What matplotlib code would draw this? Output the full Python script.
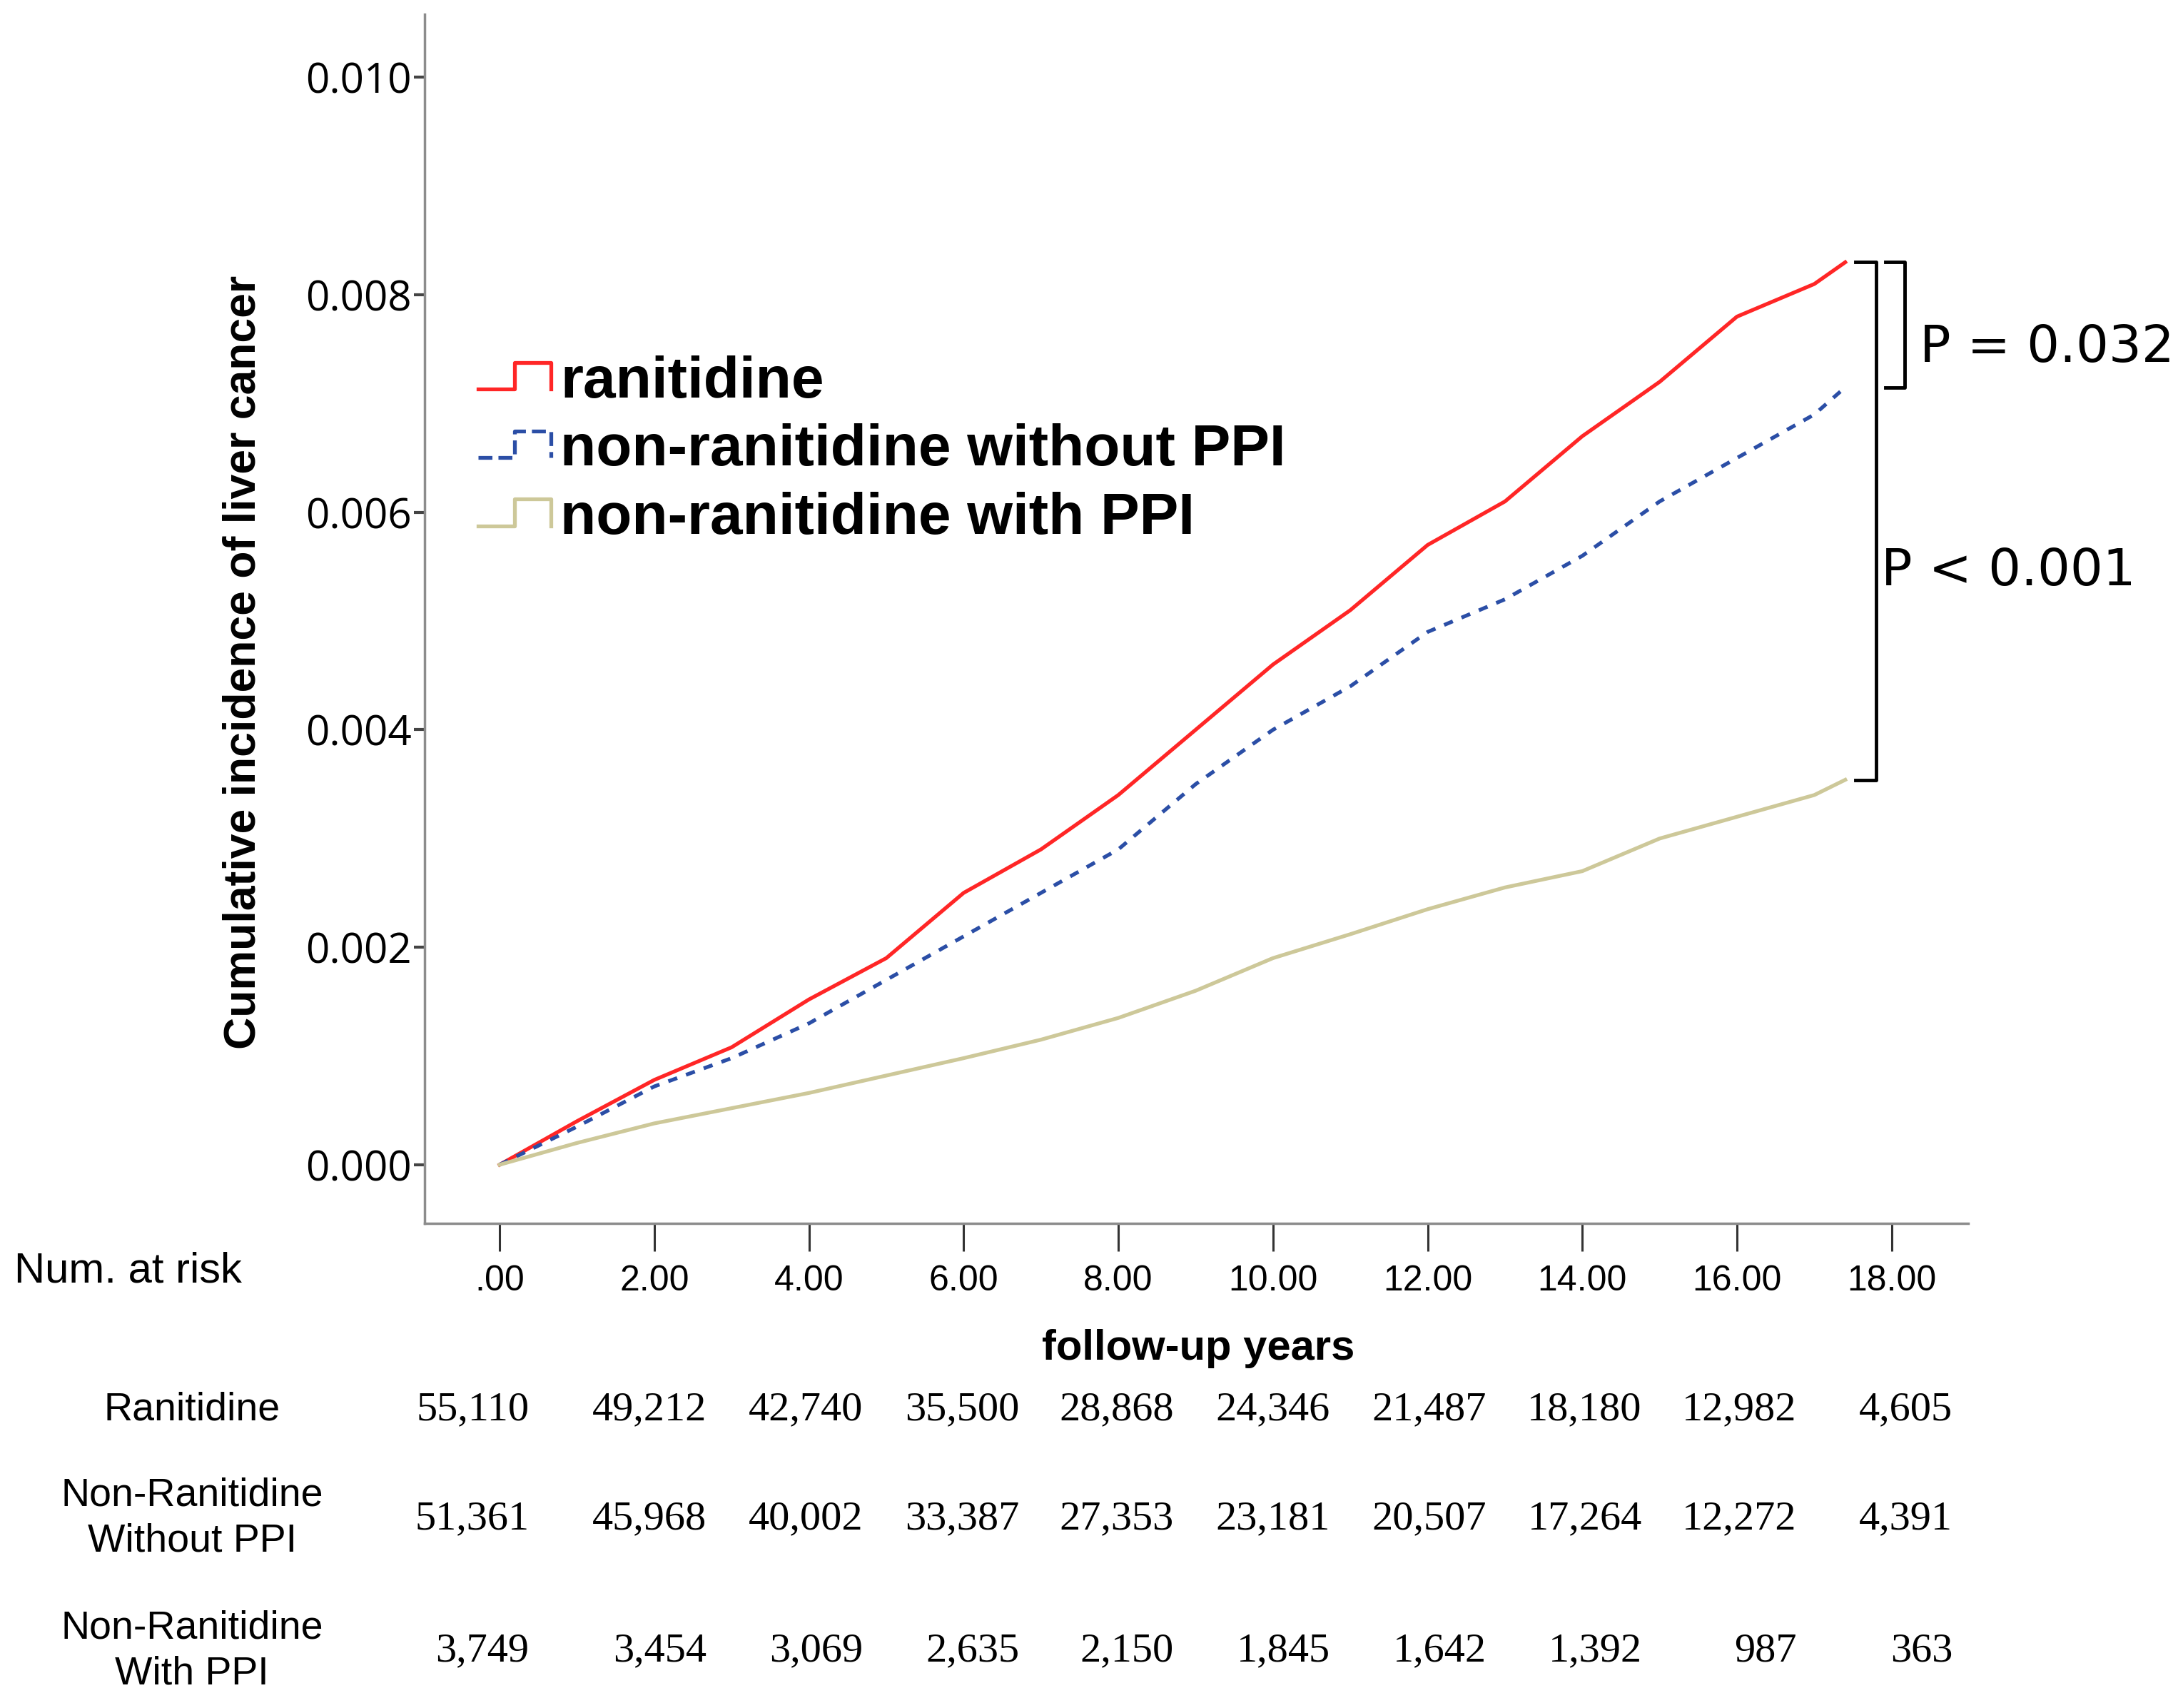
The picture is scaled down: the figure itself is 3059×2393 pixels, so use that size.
import numpy as np
import matplotlib.pyplot as plt
from matplotlib.lines import Line2D
from matplotlib.legend_handler import HandlerLine2D
import matplotlib.transforms as mtransforms

# follow-up years and cumulative incidence
years = [0, 1, 2, 3, 4, 5, 6, 7, 8, 9, 10, 11, 12, 13, 14, 15, 16, 17, 17.4]
ranitidine = [0, 0.0004, 0.00078, 0.00108, 0.00152, 0.0019, 0.0025, 0.0029, 0.0034,
              0.0040, 0.0046, 0.0051, 0.0057, 0.0061, 0.0067, 0.0072, 0.0078, 0.0081, 0.0083]
non_ran_no_ppi = [0, 0.00035, 0.00072, 0.00098, 0.0013, 0.0017, 0.0021, 0.0025, 0.0029,
                  0.0035, 0.0040, 0.0044, 0.0049, 0.0052, 0.0056, 0.0061, 0.0065, 0.0069, 0.00715]
non_ran_ppi = [0, 0.0002, 0.00038, 0.00052, 0.00066, 0.00082, 0.00098, 0.00115, 0.00135,
               0.0016, 0.0019, 0.00212, 0.00235, 0.00255, 0.0027, 0.0030, 0.0032, 0.0034, 0.00354]

series_labels = ["ranitidine", "non-ranitidine without PPI", "non-ranitidine with PPI"]

xticks = [0, 2, 4, 6, 8, 10, 12, 14, 16, 18]
xtick_labels = [".00", "2.00", "4.00", "6.00", "8.00", "10.00", "12.00", "14.00", "16.00", "18.00"]
yticks = [0.0, 0.002, 0.004, 0.006, 0.008, 0.010]

risk_rows = ["Ranitidine", "Non-Ranitidine\nWithout PPI", "Non-Ranitidine\nWith PPI"]
risk_ranitidine = ["55,110", "49,212", "42,740", "35,500", "28,868", "24,346", "21,487", "18,180", "12,982", "4,605"]
risk_no_ppi = ["51,361", "45,968", "40,002", "33,387", "27,353", "23,181", "20,507", "17,264", "12,272", "4,391"]
risk_ppi = ["3,749", "3,454", "3,069", "2,635", "2,150", "1,845", "1,642", "1,392", "987", "363"]

RED = "#ff2626"
BLUE = "#2b4ea6"
TAN = "#cdc899"
SANS = ["Liberation Sans", "DejaVu Sans"]


class StepHandler(HandlerLine2D):
    # legend key drawn as a little step, like the SPSS output
    def create_artists(self, legend, orig_handle, xdescent, ydescent, width, height, fontsize, trans):
        x0, x1 = -xdescent, -xdescent + width
        xm = (x0 + x1) / 2
        ylo, yhi = -ydescent + 0.2 * height, -ydescent + 0.85 * height
        line = Line2D([x0, xm, xm, x1, x1], [ylo, ylo, yhi, yhi, ylo],
                      transform=trans, color=orig_handle.get_color(),
                      linestyle=orig_handle.get_linestyle(), linewidth=orig_handle.get_linewidth())
        return [line]


fig = plt.figure(figsize=(30.59, 23.93), dpi=100)
ax = fig.add_axes([0.1945, 0.2837, 0.7071, 0.7079])

l1, = ax.plot(years, ranitidine, color=RED, lw=3.8, label=series_labels[0])
l2, = ax.plot(years, non_ran_no_ppi, color=BLUE, lw=3.8, dashes=(2.5, 2.5), label=series_labels[1])
l3, = ax.plot(years, non_ran_ppi, color=TAN, lw=3.8, label=series_labels[2])

ax.set_xlim(-0.97, 18.99)
ax.set_ylim(-0.00054, 0.01058)

for s in ["top", "right"]:
    ax.spines[s].set_visible(False)
for s in ["left", "bottom"]:
    ax.spines[s].set_color("#8c8c8c")
    ax.spines[s].set_linewidth(2.5)

ax.set_xticks(xticks)
ax.set_xticklabels(xtick_labels, family=SANS, fontsize=36)
ax.tick_params(axis="x", direction="out", length=28, width=2.2, color="#333333", pad=14)
ax.set_yticks(yticks)
ax.set_yticklabels([f"{v:.3f}" for v in yticks], family=["Open Sans", "DejaVu Sans"], fontsize=42)
ax.tick_params(axis="y", direction="out", length=11, width=3, color="#444444", pad=2)

ax.set_ylabel("Cumulative incidence of liver cancer", fontsize=45, fontweight="bold", family=SANS)
ax.yaxis.set_label_coords(-0.104, 0.464)

leg = fig.legend(handles=[l1, l2, l3], loc="upper left", bbox_to_anchor=(0.219, 0.792),
                 frameon=False, borderpad=0, borderaxespad=0, handlelength=1.25,
                 handletextpad=0.16, labelspacing=0.24,
                 prop={"family": SANS, "weight": "bold", "size": 59},
                 handler_map={Line2D: StepHandler()})

# brackets with p-values next to the curve ends
top, mid, bot = ranitidine[-1], non_ran_no_ppi[-1], non_ran_ppi[-1]
ax.plot([17.53, 17.8, 17.8, 17.53], [top, top, bot, bot], color="black", lw=3.5, clip_on=False)
ax.plot([17.92, 18.17, 18.17, 17.92], [top, top, mid, mid], color="black", lw=3.5, clip_on=False)
ax.text(18.36, 0.00751, "P = 0.032", fontsize=52, va="center", ha="left",
        family=["DejaVu Sans"], clip_on=False)
ax.text(17.86, 0.00546, "P < 0.001", fontsize=52, va="center", ha="left",
        family=["DejaVu Sans"], clip_on=False)

# x label and number at risk table
fig.text(0.549, 0.2102, "follow-up years", fontsize=43, fontweight="bold", family=SANS,
         ha="center", va="center")
fig.text(0.0065, 0.2557, "Num. at risk", fontsize=43, family=SANS, ha="left", va="center")

col_x = [0.38, 2.68, 4.70, 6.72, 8.72, 10.74, 12.76, 14.77, 16.77, 18.79]
row_y = [0.1745, 0.1108, 0.0334]
trans = mtransforms.blended_transform_factory(ax.transData, fig.transFigure)
for label, counts, y in zip(risk_rows, [risk_ranitidine, risk_no_ppi, risk_ppi], row_y):
    fig.text(0.088, y, label, fontsize=40, family=SANS, ha="center", va="center",
             linespacing=1.3)
    for x, c in zip(col_x, counts):
        ax.text(x, y, c, transform=trans, fontsize=42, family=["Liberation Serif"],
                ha="right", va="center", clip_on=False)

plt.savefig("out.png", dpi=100)
